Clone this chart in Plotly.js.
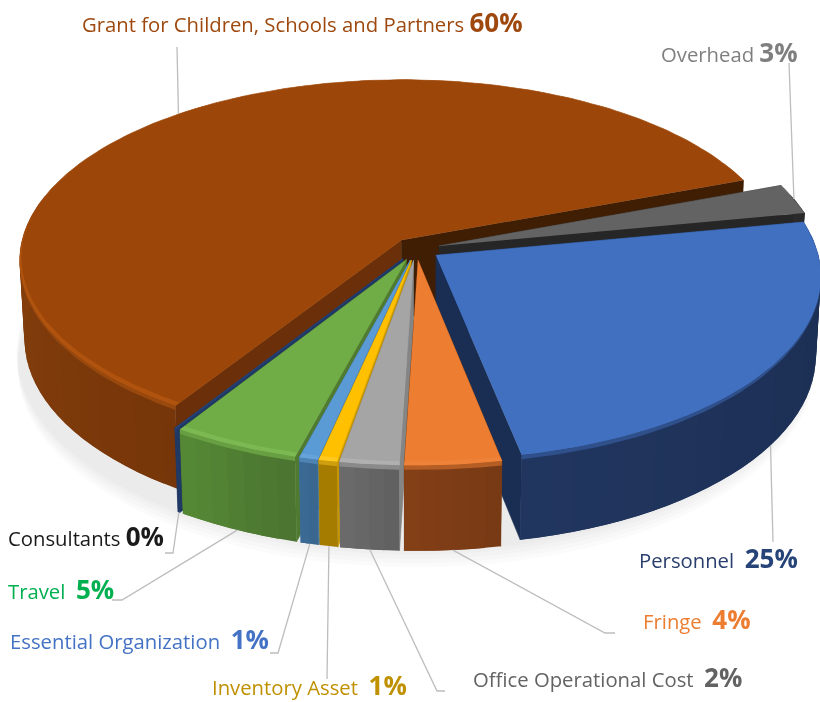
<!DOCTYPE html>
<html>
<head>
<meta charset="utf-8">
<script src="https://cdn.plot.ly/plotly-3.0.1.min.js"></script>
<style>html,body{margin:0;padding:0;background:#fff}#chart{width:820px;height:702px;filter:blur(0.35px)}</style>
</head>
<body>
<div id="chart"></div>
<script>
// ---- data, clockwise from the Overhead slice ----
const categories = ["Overhead","Personnel","Fringe","Office Operational Cost","Inventory Asset","Essential Organization","Travel","Consultants","Grant for Children, Schools and Partners"];
const labelPercents = [3,25,4,2,1,1,5,0,60];
const shares = [2.7,24.88,3.63,2.23,0.69,0.7,4.81,0.08,60.28];

// ---- styles ----
const topColors   = ["#636363","#4170c0","#ed7d31","#a5a5a5","#ffc000","#5b9bd5","#70ad47","#264478","#9c4709"];
const bevelColors = ["#6b6b6b","#4170c0","#ee8238","#b0b0b0","#ffc91f","#66a3da","#7cb952","#264478","#b0530f"];
const sideStart   = ["#2a2a2a","#1a2c50","#763a15","#5f5f5f","#a67c00","#38668f","#4a7330","#203a66","#773609"];
const sideEnd     = ["#2a2a2a","#21365f","#843f16","#6b6b6b","#a67c00","#3b6a94","#568a35","#203a66","#87400d"];
const wallColors  = ["#262626","#1a2d52","#7a3c14","#858585","#c79600","#3f78ad","#4f7a30","#1f3864","#6b300a"];
const wallColors2 = ["#262626","#1a2d52","#7a3c14","#858585","#c79600","#3f78ad","#4f7a30","#1f3864","#3f1e03"];
const labelColors = ["#7f7f7f","#2a3f6e","#ed7d31","#636363","#bf9000","#4472c4","#00b050","#1a1a1a","#9e480e"];
const pctColors   = ["#7f7f7f","#264478","#ed7d31","#636363","#bf9000","#4472c4","#00b050","#1a1a1a","#9e480e"];
const labelX = [659,637,641,471,210,8,6,6,80];
const labelY = [52,558,619,677,685,639,589,536,22];
const labelGap = ["\u00a0","\u00a0\u00a0","\u00a0\u00a0","\u00a0\u00a0","\u00a0\u00a0","\u00a0\u00a0","\u00a0\u00a0","\u00a0","\u00a0"];
const leaderDepth = [0,1,1,1,1,1,1,1,0];
const leaderAngleShift = [0,0,0,0,0,0,0,0,0.8];
const leaderElbowX = [[789],[773],[605,615],[437,445],[327],[278,270],[122,112],[173,165],[177]];
const leaderElbowY = [[63],[542],[633,633],[691,691],[679],[653,653],[600,600],[553,553],[47]];
const drawOrder = [8,0,1,7,6,5,4,3,2];

// ---- perspective model of the disc ----
const cx=416, cy=249, a=381, b=180, q=0.11, s=0.012, depth=79, explode=0.0625, startAngle=20.5;

const slices=[]; let ang=startAngle;
const total=shares.reduce((p,c)=>p+c,0);
shares.forEach(v=>{const span=v/total*360; const a1=ang,a2=ang-span,m=(a1+a2)/2;
  slices.push({a1,a2,m,ou:explode*Math.cos(m*Math.PI/180),ov:-explode*Math.sin(m*Math.PI/180)}); ang=a2;});

function project(ou,ov,theta,r,z){
  const t=theta*Math.PI/180, u=ou+r*Math.cos(t), v=ov-r*Math.sin(t), w=1-q*v+s*z;
  return [cx+a*u/w, cy+(b*v+depth*z)/w, v];
}
const P=(i,theta,r,z)=>project(slices[i].ou,slices[i].ov,theta,r,z);
function mix(c1,c2,t){const h=c=>[1,3,5].map(k=>parseInt(c.substr(k,2),16));const A=h(c1),B=h(c2);
  return 'rgb('+A.map((x,k)=>Math.round(x+(B[k]-x)*t)).join(',')+')';}
function steps(a1,a2,d){const n=Math.max(1,Math.ceil(Math.abs(a1-a2)/d));const o=[];for(let k=0;k<=n;k++)o.push(a1+(a2-a1)*k/n);return o;}

const traces=[];
function poly(pts,color,lw){traces.push({type:'scatter',mode:'lines',x:pts.map(p=>p[0]),y:pts.map(p=>p[1]),fill:'toself',fillcolor:color,
  line:{color:color,width:lw===undefined?0.6:lw},hoverinfo:'skip',showlegend:false});}

// soft shadow under the disc
[0.22,0.17,0.12,0.07,0.03].forEach(dz=>{
  const pts=steps(0,360,4).map(th=>project(0,0,th,1+explode-0.008,1+dz));
  poly(pts,'rgba(0,0,0,0.014)',0);
});

drawOrder.forEach(i=>{
  const S=slices[i];
  // cut walls
  const wall=(th,col)=>poly([P(i,th,0,0),P(i,th,1,0),P(i,th,1,1),P(i,th,0,1)],col);
  wall(S.a1,wallColors[i]); wall(S.a2,wallColors2[i]);
  // outer rim, facets overlap the next one so that no seam shows
  const th=steps(S.a1,S.a2,2.5);
  const visible=[];
  for(let k=0;k<th.length-1;k++){
    if(!(P(i,th[k],1,0)[2]<-0.25 && P(i,th[k+1],1,0)[2]<-0.25)) visible.push(k);
  }
  visible.forEach((k,n)=>{
    const col=mix(sideStart[i],sideEnd[i],(n+0.5)/visible.length);
    const end=th[Math.min(k+2,th.length-1)];
    poly([P(i,th[k],1,0),P(i,end,1,0),P(i,end,1,1),P(i,th[k],1,1)],col,0);
  });
  // top face
  const arc=steps(S.a1,S.a2,1).map(t=>P(i,t,1,0));
  poly([P(i,S.a1,0,0)].concat(arc),topColors[i]);
  // bevel along the near rim
  const fine=steps(S.a1,S.a2,1.5);
  const inner=fine.slice().reverse().map(t=>{const v=-Math.sin(t*Math.PI/180);return P(i,t,1-0.018*Math.max(0,Math.min(1,v+0.15)),0);});
  poly(fine.map(t=>P(i,t,1,0)).concat(inner),bevelColors[i],0);
  const edge=fine.slice().reverse().map(t=>{const v=-Math.sin(t*Math.PI/180);return P(i,t,1,0.05*Math.max(0,Math.min(1,v+0.15)));});
  poly(fine.map(t=>P(i,t,1,0)).concat(edge),mix(bevelColors[i],sideEnd[i],0.55),0);
});

// leader lines, starting on the rim at each slice's middle angle
categories.forEach((c,i)=>{
  const st=P(i,slices[i].m+leaderAngleShift[i],1,leaderDepth[i]);
  traces.push({type:'scatter',mode:'lines',x:[st[0]].concat(leaderElbowX[i]),y:[st[1]].concat(leaderElbowY[i]),
    line:{color:'#bdbdbd',width:1.3},hoverinfo:'skip',showlegend:false});
});

const annotations=categories.map((c,i)=>({
  x:labelX[i],y:labelY[i],xref:'x',yref:'y',xanchor:'left',yanchor:'middle',showarrow:false,align:'left',
  text:c+labelGap[i]+'<span style="font-size:26px;font-weight:bold;color:'+pctColors[i]+'"><b>'+labelPercents[i]+'%</b></span>',
  font:{family:'"Open Sans",sans-serif',size:20.3,color:labelColors[i]}
}));

Plotly.newPlot('chart',traces,{
  width:820,height:702,margin:{l:0,r:0,t:0,b:0},paper_bgcolor:'#fff',plot_bgcolor:'#fff',showlegend:false,
  xaxis:{range:[0,820],visible:false,fixedrange:true},
  yaxis:{range:[702,0],visible:false,fixedrange:true},
  annotations:annotations
},{displayModeBar:false,staticPlot:true});
</script>
</body>
</html>
